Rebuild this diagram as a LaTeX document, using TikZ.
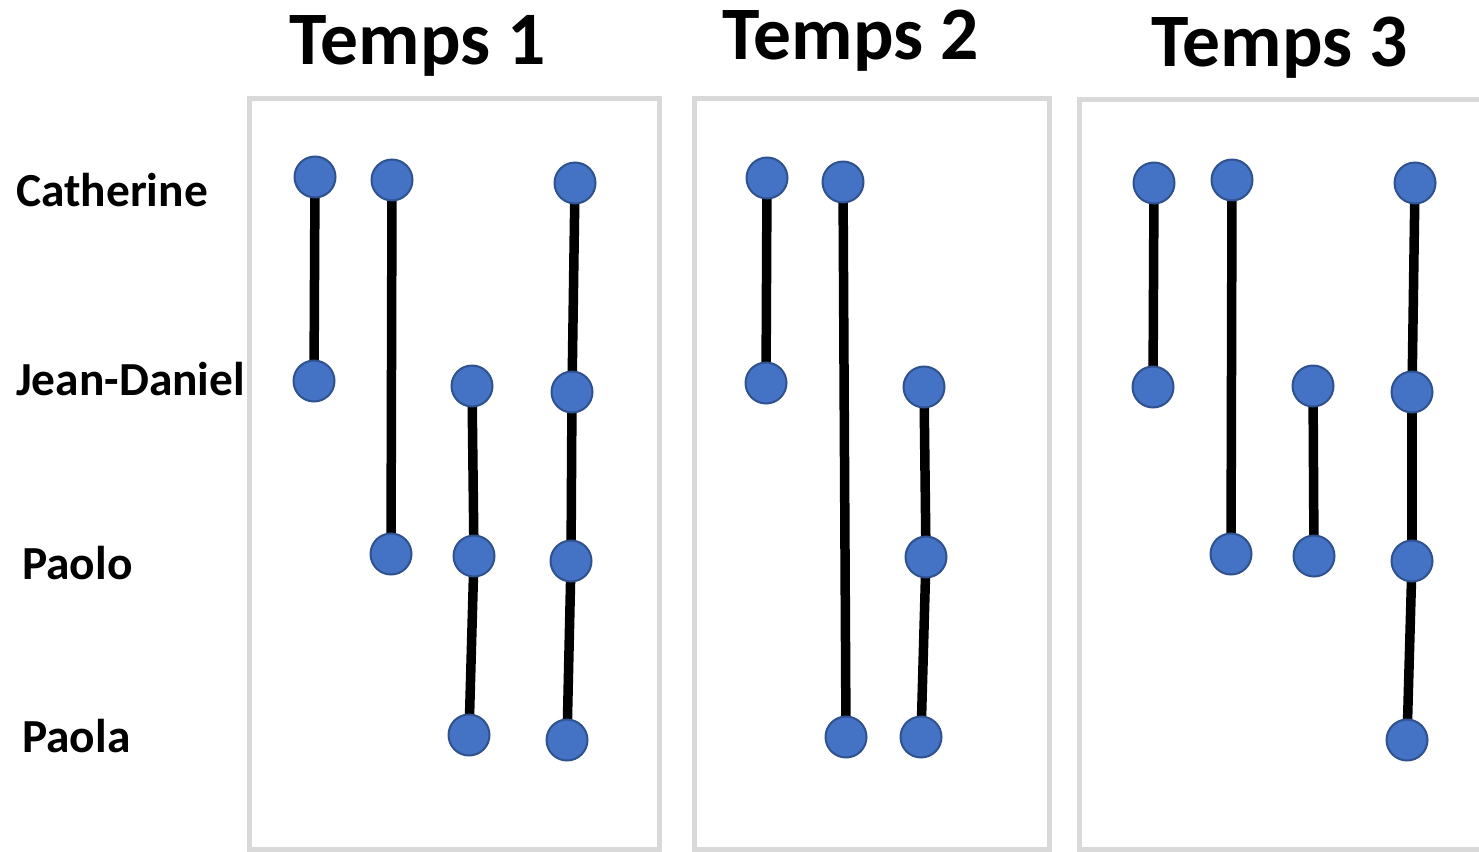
\documentclass[tikz,border=0pt]{standalone}
\usepackage{fontspec}
\setmainfont{Carlito}
\usetikzlibrary{backgrounds}
\definecolor{dotblue}{HTML}{4472C4}
\definecolor{dotedge}{HTML}{2F528F}
\definecolor{boxgray}{HTML}{D9D9D9}
\tikzset{
  pt/.style={circle, fill=dotblue, draw=dotedge, line width=0.04cm, minimum size=0.82cm, inner sep=0pt},
  lien/.style={line width=0.19cm, black},
  cadre/.style={draw=boxgray, line width=0.1cm},
  titre/.style={anchor=base, font=\bfseries\fontsize{43}{50}\selectfont},
  nom/.style={anchor=base west, font=\bfseries\fontsize{27}{32}\selectfont}
}
\begin{document}
\begin{tikzpicture}[x=0.02cm, y=-0.02cm]
      \useasboundingbox (0,0) rectangle (1479,851);
      \draw[cadre] (249,99) rectangle (659,849);
      \draw[cadre] (694,99) rectangle (1049,849);
      \draw[cadre] (1079,100) rectangle (1500,849);
      \draw
        (418,65) node[titre] (temps1){Temps 1}
        (851,60) node[titre] (temps2){Temps 2}
        (1280,67) node[titre] (temps3){Temps 3}
        (10,206) node[nom] (cath){Catherine}
        (10,395) node[nom] (jd){Jean-Daniel}
        (16,579) node[nom] (paolo){Paolo}
        (16,752) node[nom] (paola){Paola};
      % Temps 1
      \draw
        (315,177) node[pt] (t1a1){}
        (314,381) node[pt] (t1a2){}
        (392,180) node[pt] (t1b1){}
        (391,554) node[pt] (t1b3){}
        (472,386) node[pt] (t1c2){}
        (474,556) node[pt] (t1c3){}
        (469,735) node[pt] (t1c4){}
        (575,183) node[pt] (t1d1){}
        (572,392) node[pt] (t1d2){}
        (571,561) node[pt] (t1d3){}
        (567,740) node[pt] (t1d4){};
      % Temps 2
      \draw
        (767,178) node[pt] (t2a1){}
        (766,383) node[pt] (t2a2){}
        (843,182) node[pt] (t2b1){}
        (846,737) node[pt] (t2b4){}
        (924,387) node[pt] (t2c2){}
        (926,557) node[pt] (t2c3){}
        (921,737) node[pt] (t2c4){};
      % Temps 3
      \draw
        (1154,183) node[pt] (t3a1){}
        (1153,387) node[pt] (t3a2){}
        (1232,180) node[pt] (t3b1){}
        (1231,554) node[pt] (t3b3){}
        (1313,386) node[pt] (t3c2){}
        (1314,556) node[pt] (t3c3){}
        (1415,183) node[pt] (t3d1){}
        (1412,392) node[pt] (t3d2){}
        (1412,561) node[pt] (t3d3){}
        (1407,740) node[pt] (t3d4){};
      \begin{scope}[on background layer]
      \begin{scope}[lien]
        \draw (t1a1.center) to (t1a2.center);
        \draw (t1b1.center) to (t1b3.center);
        \draw (t1c2.center) to (t1c3.center);
        \draw (t1c3.center) to (t1c4.center);
        \draw (t1d1.center) to (t1d2.center);
        \draw (t1d2.center) to (t1d3.center);
        \draw (t1d3.center) to (t1d4.center);
        \draw (t2a1.center) to (t2a2.center);
        \draw (t2b1.center) to (t2b4.center);
        \draw (t2c2.center) to (t2c3.center);
        \draw (t2c3.center) to (t2c4.center);
        \draw (t3a1.center) to (t3a2.center);
        \draw (t3b1.center) to (t3b3.center);
        \draw (t3c2.center) to (t3c3.center);
        \draw (t3d1.center) to (t3d2.center);
        \draw (t3d2.center) to (t3d3.center);
        \draw (t3d3.center) to (t3d4.center);
      \end{scope}
      \end{scope}
    \end{tikzpicture}
\end{document}
